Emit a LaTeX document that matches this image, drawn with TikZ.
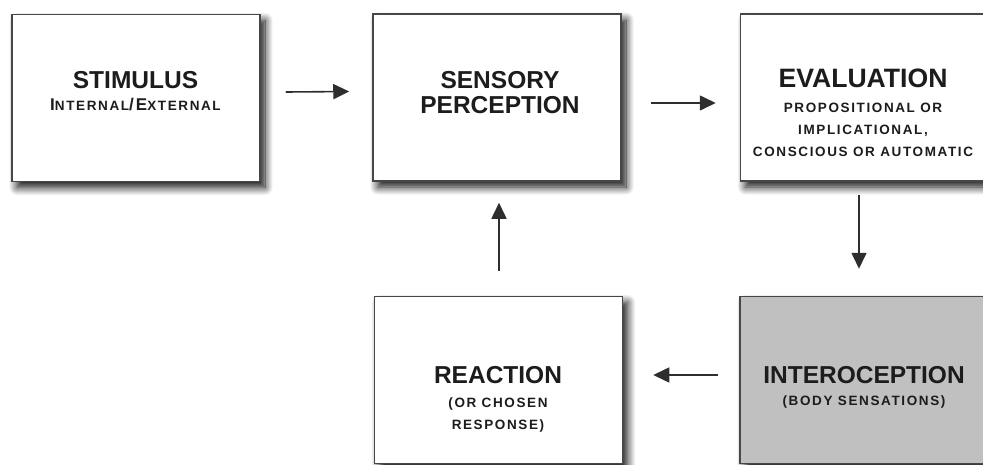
\documentclass[tikz,border=0pt]{standalone}
\usepackage{fontspec}
\setmainfont{Liberation Sans}
\newfontfamily\subfont{Liberation Sans}[LetterSpace=12]
\usetikzlibrary{arrows.meta,calc,shadows.blur}

\definecolor{boxline}{HTML}{474747}
\definecolor{boxgray}{HTML}{C0C0C0}
\definecolor{ink}{HTML}{1C1C1C}
\definecolor{arrowline}{HTML}{2E2E2E}

% big initial + smaller capitals, as a hand-made small-caps word
\newcommand{\capword}[2]{{\fontsize{17}{17}\selectfont #1}{\fontsize{13.5}{13.5}\selectfont #2}}

\begin{document}
\begin{tikzpicture}[x=1pt,y=-1pt,
  stagebox/.style={draw=boxline, line width=1.5pt, fill=white,
    minimum width=248pt, minimum height=167pt, inner sep=0pt,
    blur shadow={shadow xshift=5pt, shadow yshift=-6pt,
      shadow blur radius=8pt, shadow blur steps=14, shadow opacity=95}},
  title/.style={anchor=base, text=ink, align=center,
    font=\bfseries\fontsize{24.5}{25.5}\selectfont, inner sep=0pt},
  subtitle/.style={anchor=base, text=ink, align=center,
    font=\subfont\bfseries\fontsize{13.5}{22}\selectfont, inner sep=0pt},
  flow/.style={draw=arrowline, line width=1.6pt,
    -{Triangle[length=16pt,width=15pt]}}]

\useasboundingbox (0,0) rectangle (983,464);
\clip (0,0) rectangle (983,464);

% stage boxes
\node[stagebox] (stim)   at (136,98)    {};
\node[stagebox] (sens)   at (497,97.5)  {};
\node[stagebox] (eval)   at (864.5,97.5){};
\node[stagebox] (react)  at (498.5,380) {};
\node[stagebox, fill=boxgray] (intero) at (864,380) {};

% box texts (a multi-line node sits on the baseline of its last line)
\node[title] (stimT) at (135.5,88.3) {STIMULUS};
\node[subtitle] (stimS) at (135.5,110) {\capword{I}{NTERNAL}\capword{/E}{XTERNAL}};

\node[title] (sensT) at (500,113.8) {SENSORY\\PERCEPTION};

\node[title, font=\bfseries\fontsize{26.6}{26.6}\selectfont] (evalT) at (863,87.5) {EVALUATION};
\node[subtitle] (evalS) at (863,156.8) {PROPOSITIONAL OR\\IMPLICATIONAL,\\CONSCIOUS OR AUTOMATIC};

\node[title] (reactT) at (498,383.8) {REACTION};
\node[subtitle] (reactS) at (498,429.8) {(OR CHOSEN\\RESPONSE)};

\node[title] (interoT) at (864,383.8) {INTEROCEPTION};
\node[subtitle] (interoS) at (864,405.8) {(BODY SENSATIONS)};

% connectors
\draw[flow] ($(stim.east)+(25,-6)$) -- ($(sens.west)+(-23,-6)$);
\draw[flow] ($(sens.east)+(29,5.5)$) -- ($(eval.west)+(-24,5.5)$);
\draw[flow] ($(eval.south)+(-5.5,13)$) -- ($(intero.north)+(-5,-27)$);
\draw[flow] ($(intero.west)+(-21,-5)$) -- ($(react.east)+(30,-5)$);
\draw[flow] ($(react.north)+(0.5,-25)$) -- ($(sens.south)+(2,21)$);
\end{tikzpicture}
\end{document}
